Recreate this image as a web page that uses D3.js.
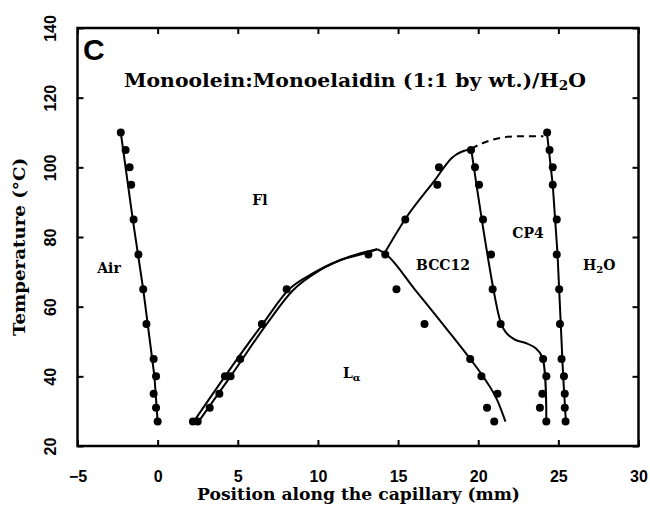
<!DOCTYPE html>
<meta charset="utf-8">
<script src="https://d3js.org/d3.v7.min.js"></script>
<style>
  body { margin: 0; background: #fff; }
  .tick text { font-family: "Liberation Sans", Arial, sans-serif; font-weight: bold; font-size: 16px; fill: #000; }
  .lbl { font-family: "DejaVu Serif", serif; font-weight: bold; fill: #000; }
</style>
<div id="my_dataviz"></div>
<script>

// measured points (position along capillary in mm, temperature in °C)
var airX = [-2.3, -2.0, -1.75, -1.65, -1.5, -1.2, -0.9, -0.7, -0.25, -0.1, -0.25, -0.1, 0];
var airT = [110, 105, 100, 95, 85, 75, 65, 55, 45, 40, 35, 31, 27];

var lamX = [2.2, 2.5, 3.25, 3.85, 4.2, 4.55, 5.15, 6.5, 8.05, 13.15];
var lamT = [27, 27, 31, 35, 40, 40, 45, 55, 65, 75];

var flbX = [14.2, 15.45, 17.45, 17.55, 19.55];
var flbT = [75, 85, 95, 100, 105];

var lbX = [14.9, 16.65, 19.5, 20.2, 21.2, 20.55, 21.0];
var lbT = [65, 55, 45, 40, 35, 31, 27];

var bcX = [19.8, 20.05, 20.3, 20.8, 20.9, 21.4, 24.05, 24.25, 24.0, 23.85, 24.25];
var bcT = [100, 95, 85, 75, 65, 55, 45, 40, 35, 31, 27];

var h2oX = [24.3, 24.45, 24.65, 24.65, 24.9, 24.9, 25.05, 25.1, 25.2, 25.35, 25.4, 25.4, 25.45];
var h2oT = [110, 105, 100, 95, 85, 75, 65, 55, 45, 40, 35, 31, 27];

// phase boundary curves drawn through the figure
var airLine = [[-2.3, 110], [-1.55, 85], [-0.9, 65], [-0.2, 40], [0, 27]];
var lamLineA = [[2.25, 27], [4.2, 40], [6.55, 55], [8.2, 65], [9.7, 69.6], [11.4, 73.4], [13.15, 75.6], [13.7, 76.5]];
var lamLineB = [[2.55, 27], [4.55, 40], [6.8, 55], [8.4, 64.5], [10.1, 70.4], [12, 74.4], [13.7, 76.5]];
var lbLine = [[13.7, 76.5], [14.2, 75.2], [16, 65.2], [18, 53.8], [19.5, 45], [20.3, 40], [21.2, 33], [21.7, 27]];
var flbLine = [[14.15, 75.3], [15.44, 85.1], [17.31, 96.4], [18.35, 102.7], [19.56, 105.3]];
var dashLine = [[19.56, 105.3], [20.3, 107.0], [22.4, 108.9], [24.07, 108.9]];
var bcLine = [[19.56, 105.3], [21.4, 55.5], [21.75, 52.5], [22.3, 50.5], [23.0, 49.5], [23.6, 48], [24.0, 45.5], [24.25, 27]];
var h2oLine = [[24.28, 110.3], [24.65, 95], [24.95, 75], [25.15, 55], [25.3, 40], [25.47, 27]];

var xTicks = [-5, 0, 5, 10, 15, 20, 25, 30];
var yTicks = [20, 40, 60, 80, 100, 120, 140];

var svg = d3.select("#my_dataviz")
  .append("svg")
    .attr("width", 650)
    .attr("height", 510);

var x = d3.scaleLinear().domain([-5, 30]).range([77.5, 638.5]);
var y = d3.scaleLinear().domain([20, 140]).range([446, 28]);

// frame
svg.append("rect")
  .attr("x", x(-5)).attr("y", y(140))
  .attr("width", x(30) - x(-5)).attr("height", y(20) - y(140))
  .attr("fill", "none").attr("stroke", "#000").attr("stroke-width", 2.5);

// axes, ticks pointing inward
var xb = svg.append("g").attr("transform", "translate(0," + y(20) + ")")
  .call(d3.axisBottom(x).tickValues(xTicks).tickSizeInner(-6).tickSizeOuter(0));
xb.selectAll("text").attr("y", 36).attr("dy", 0);

var yl = svg.append("g").attr("transform", "translate(" + x(-5) + ",0)")
  .call(d3.axisLeft(y).tickValues(yTicks).tickSizeInner(-6).tickSizeOuter(0));
yl.selectAll("text")
  .attr("x", 0).attr("dy", 0)
  .attr("text-anchor", "middle")
  .attr("transform", "translate(-22,0) rotate(-90)");

svg.append("g").attr("transform", "translate(0," + y(140) + ")")
  .call(d3.axisTop(x).tickValues(xTicks).tickSizeInner(-6).tickSizeOuter(0).tickFormat(""));
svg.append("g").attr("transform", "translate(" + x(30) + ",0)")
  .call(d3.axisRight(y).tickValues(yTicks).tickSizeInner(-6).tickSizeOuter(0).tickFormat(""));

svg.selectAll(".domain").remove();
svg.selectAll(".tick line").attr("stroke", "#000").attr("stroke-width", 2);

// boundary lines
var lineLin = d3.line().x(function(d) { return x(d[0]); }).y(function(d) { return y(d[1]); });
var lineSmooth = d3.line().curve(d3.curveCatmullRom.alpha(0.5))
  .x(function(d) { return x(d[0]); }).y(function(d) { return y(d[1]); });
var lineMono = d3.line().curve(d3.curveMonotoneX)
  .x(function(d) { return x(d[0]); }).y(function(d) { return y(d[1]); });

function drawLine(data, gen, dash) {
  svg.append("path")
    .attr("d", gen(data))
    .attr("fill", "none")
    .attr("stroke", "#000")
    .attr("stroke-width", 2)
    .attr("stroke-dasharray", dash || null);
}
drawLine(airLine, lineLin);
drawLine(lamLineA, lineMono);
drawLine(lamLineB, lineMono);
drawLine(lbLine, lineMono);
drawLine(flbLine, lineMono);
drawLine(dashLine, lineMono, "7,5");
drawLine(bcLine, lineSmooth);
drawLine(h2oLine, lineLin);

// points
function drawDots(xs, ts) {
  svg.append("g")
    .selectAll("circle")
    .data(xs.map(function(v, i) { return [v, ts[i]]; }))
    .enter()
    .append("circle")
      .attr("cx", function(d) { return x(d[0]); })
      .attr("cy", function(d) { return y(d[1]); })
      .attr("r", 4)
      .attr("fill", "#000");
}
drawDots(airX, airT);
drawDots(lamX, lamT);
drawDots(flbX, flbT);
drawDots(lbX, lbT);
drawDots(bcX, bcT);
drawDots(h2oX, h2oT);

// panel letter and title
svg.append("text")
  .attr("x", 83).attr("y", 60)
  .style("font-family", "Liberation Sans, Arial, sans-serif")
  .style("font-weight", "bold").style("font-size", "30px")
  .text("C");

var title = svg.append("text").attr("class", "lbl")
  .attr("x", 124).attr("y", 87)
  .attr("textLength", 462).attr("lengthAdjust", "spacingAndGlyphs")
  .style("font-size", "18px");
title.append("tspan").text("Monoolein:Monoelaidin (1:1 by wt.)/H");
title.append("tspan").attr("dy", 3).style("font-size", "12px").text("2");
title.append("tspan").attr("dy", -3).text("O");

// axis titles
svg.append("text").attr("class", "lbl")
  .attr("x", 358.5).attr("y", 500)
  .attr("text-anchor", "middle")
  .attr("textLength", 323).attr("lengthAdjust", "spacingAndGlyphs")
  .style("font-size", "17px")
  .text("Position along the capillary (mm)");

svg.append("text").attr("class", "lbl")
  .attr("transform", "translate(25,247) rotate(-90)")
  .attr("text-anchor", "middle")
  .attr("textLength", 178).attr("lengthAdjust", "spacingAndGlyphs")
  .style("font-size", "16px")
  .text("Temperature (°C)");

// phase labels
function label(px, py, txt) {
  return svg.append("text").attr("class", "lbl")
    .attr("x", px).attr("y", py)
    .attr("text-anchor", "middle")
    .style("font-size", "14px")
    .text(txt);
}
label(109, 273, "Air");
label(260, 205, "Fl");
label(443, 270, "BCC12");
label(528, 238, "CP4");

var la = svg.append("text").attr("class", "lbl")
  .attr("x", 343).attr("y", 378).style("font-size", "14px");
la.append("tspan").text("L");
la.append("tspan").attr("dy", 3).style("font-size", "10px").text("α");

var hw = svg.append("text").attr("class", "lbl")
  .attr("x", 583).attr("y", 270).style("font-size", "14px");
hw.append("tspan").text("H");
hw.append("tspan").attr("dy", 3).style("font-size", "10px").text("2");
hw.append("tspan").attr("dy", -3).text("O");

</script>
